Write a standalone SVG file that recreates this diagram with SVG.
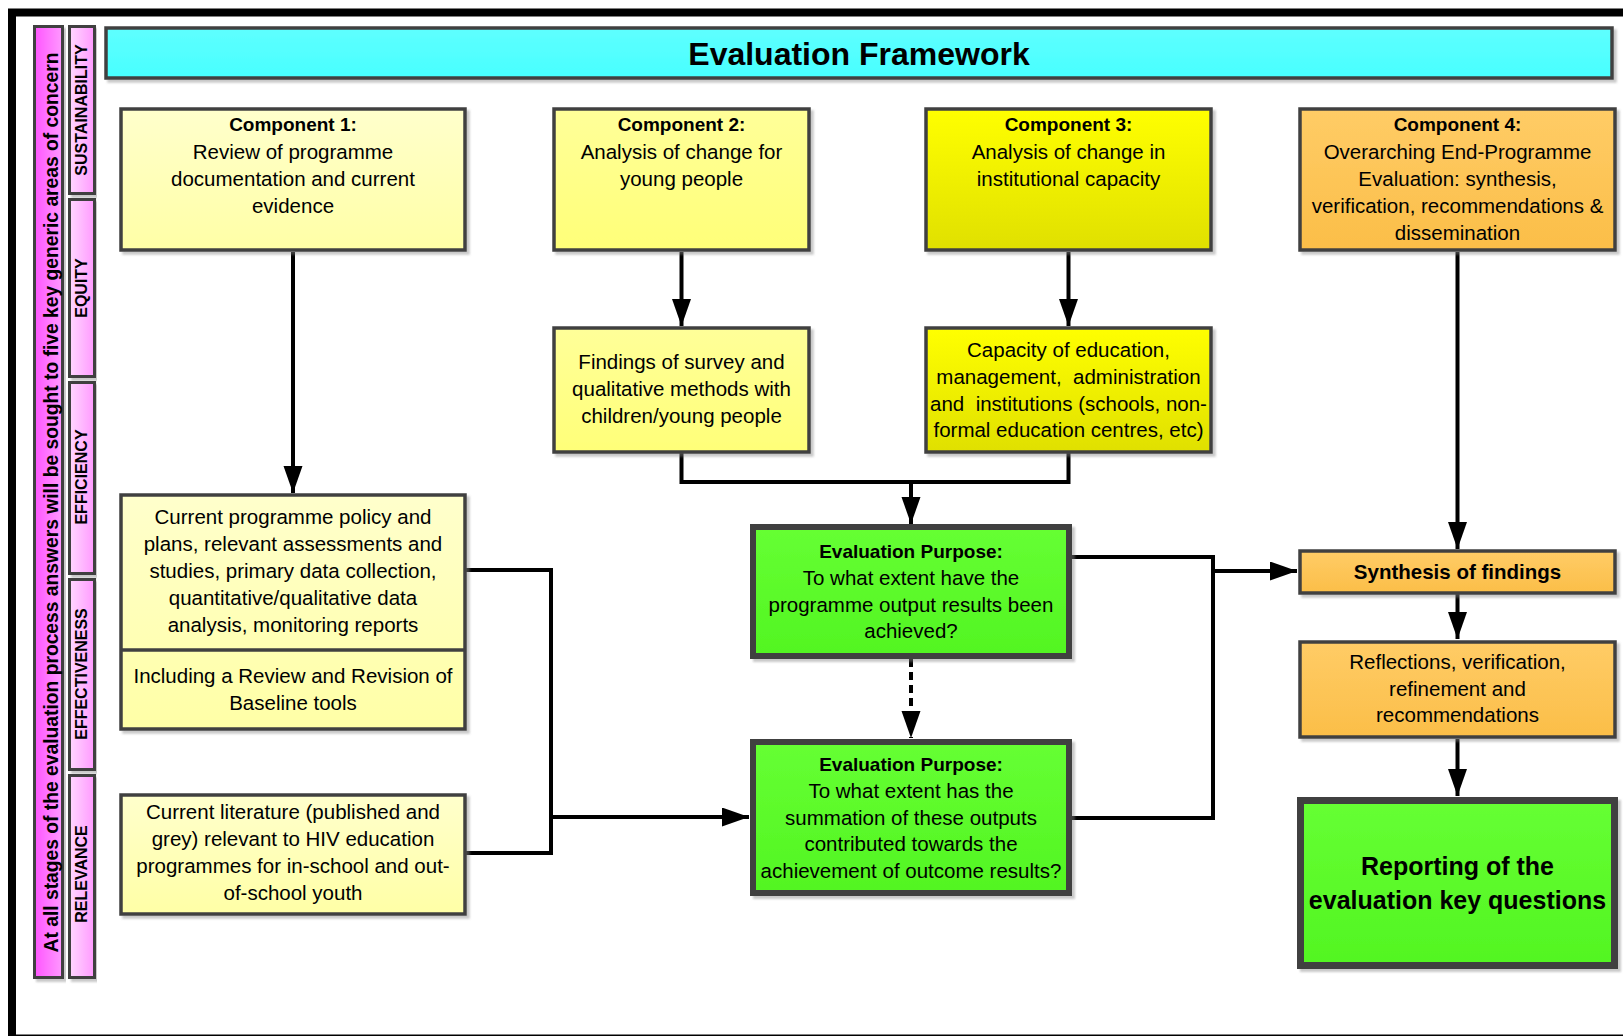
<svg xmlns="http://www.w3.org/2000/svg" width="1623" height="1036" viewBox="0 0 1623 1036">
<style>
  text { font-family: "Liberation Sans", Arial, sans-serif; fill: #000; }
  .t { font-size: 20.5px; text-anchor: middle; }
  .h { font-size: 19px; font-weight: bold; text-anchor: middle; }
  .pil { font-size: 16px; font-weight: bold; text-anchor: middle; }
  .box { stroke: #404040; stroke-width: 3.5; filter: url(#sh); }
  .thick { stroke: #404040; stroke-width: 6; filter: url(#sh); }
  .con { fill: none; stroke: #000; stroke-width: 4; }
  .arr { marker-end: url(#ah); }
</style>
<defs>
  <filter id="sh" x="-5%" y="-5%" width="115%" height="120%">
    <feDropShadow dx="3" dy="3" stdDeviation="1.2" flood-color="#888" flood-opacity="0.45"/>
  </filter>
  <linearGradient id="gPale" x1="0" y1="0" x2="0" y2="1"><stop offset="0" stop-color="#ffffcc"/><stop offset="1" stop-color="#ffffa6"/></linearGradient>
  <linearGradient id="gLt" x1="0" y1="0" x2="0" y2="1"><stop offset="0" stop-color="#ffff99"/><stop offset="1" stop-color="#ffff78"/></linearGradient>
  <linearGradient id="gY" x1="0" y1="0" x2="0" y2="1"><stop offset="0" stop-color="#ffff00"/><stop offset="1" stop-color="#e0e000"/></linearGradient>
  <linearGradient id="gO" x1="0" y1="0" x2="0" y2="1"><stop offset="0" stop-color="#ffcc66"/><stop offset="1" stop-color="#fbbe48"/></linearGradient>
  <linearGradient id="gG" x1="0" y1="0" x2="0" y2="1"><stop offset="0" stop-color="#66ff33"/><stop offset="1" stop-color="#52f522"/></linearGradient>
  <linearGradient id="gC" x1="0" y1="0" x2="0" y2="1"><stop offset="0" stop-color="#5effff"/><stop offset="1" stop-color="#48ffff"/></linearGradient>
  <linearGradient id="gM" x1="0" y1="0" x2="1" y2="0"><stop offset="0" stop-color="#ff55ff"/><stop offset="1" stop-color="#ff99ff"/></linearGradient>
  <linearGradient id="gP" x1="0" y1="0" x2="1" y2="0"><stop offset="0" stop-color="#ffd8ff"/><stop offset="1" stop-color="#ff99ff"/></linearGradient>
  <marker id="ah" markerUnits="userSpaceOnUse" markerWidth="28" markerHeight="20" refX="27" refY="9.5" orient="auto">
    <path d="M0,0 L27,9.5 L0,19 Z" fill="#000"/>
  </marker>
</defs>
<rect width="1623" height="1036" fill="#fff"/>
<rect x="12" y="12.5" width="1640" height="1026" fill="none" stroke="#000" stroke-width="8"/>

<g id="concern-bar">
  <rect x="34.5" y="26.5" width="28" height="951" fill="url(#gM)" stroke="#404040" stroke-width="3" filter="url(#sh)"/>
  <text transform="translate(58,502.5) rotate(-90)" font-size="20" font-weight="bold" text-anchor="middle" textLength="900" lengthAdjust="spacingAndGlyphs">At all stages of the evaluation process answers will be sought to five key generic areas of concern</text>
</g>
<g id="sustainability">
  <rect x="69.5" y="26.5" width="25" height="167" fill="url(#gP)" stroke="#404040" stroke-width="3" filter="url(#sh)"/>
  <text class="pil" transform="translate(87,110) rotate(-90)">SUSTAINABILITY</text>
</g>
<g id="equity">
  <rect x="69.5" y="199.5" width="25" height="177" fill="url(#gP)" stroke="#404040" stroke-width="3" filter="url(#sh)"/>
  <text class="pil" transform="translate(87,288) rotate(-90)">EQUITY</text>
</g>
<g id="efficiency">
  <rect x="69.5" y="382.5" width="25" height="191" fill="url(#gP)" stroke="#404040" stroke-width="3" filter="url(#sh)"/>
  <text class="pil" transform="translate(87,477) rotate(-90)">EFFICIENCY</text>
</g>
<g id="effectiveness">
  <rect x="69.5" y="579.5" width="25" height="190" fill="url(#gP)" stroke="#404040" stroke-width="3" filter="url(#sh)"/>
  <text class="pil" transform="translate(87,674) rotate(-90)">EFFECTIVENESS</text>
</g>
<g id="relevance">
  <rect x="69.5" y="775.5" width="25" height="202" fill="url(#gP)" stroke="#404040" stroke-width="3" filter="url(#sh)"/>
  <text class="pil" transform="translate(87,874) rotate(-90)">RELEVANCE</text>
</g>

<g id="title">
  <rect x="106" y="28" width="1506" height="50" fill="url(#gC)" class="box"/>
  <text x="859" y="64.5" font-size="32" font-weight="bold" text-anchor="middle">Evaluation Framework</text>
</g>

<g id="connectors">
  <path class="con arr" d="M293,252 V493"/>
  <path class="con arr" d="M681.5,252 V326"/>
  <path class="con arr" d="M1068.5,252 V326"/>
  <path class="con" d="M681.5,453 V482 H1068.5 V453"/>
  <path class="con arr" d="M911,482 V524"/>
  <path class="con arr" d="M911,659 V738" stroke-dasharray="8,5"/>
  <path class="con" d="M466,570 H551 V853 H466"/>
  <path class="con arr" d="M551,817 H749"/>
  <path class="con" d="M1071,557 H1213 V818 H1071"/>
  <path class="con arr" d="M1213,571 H1297"/>
  <path class="con arr" d="M1457.5,252 V549"/>
  <path class="con arr" d="M1457.5,594 V639"/>
  <path class="con arr" d="M1457.5,739 V796"/>
</g>

<g id="component1">
  <rect x="121" y="109" width="344" height="141" fill="url(#gPale)" class="box"/>
  <text class="h" x="293" y="131">Component 1:</text>
  <text class="t" x="293" y="159">Review of programme</text>
  <text class="t" x="293" y="186">documentation and current</text>
  <text class="t" x="293" y="213">evidence</text>
</g>
<g id="component2">
  <rect x="554" y="109" width="255" height="141" fill="url(#gLt)" class="box"/>
  <text class="h" x="681.5" y="131">Component 2:</text>
  <text class="t" x="681.5" y="159">Analysis of change for</text>
  <text class="t" x="681.5" y="186">young people</text>
</g>
<g id="component3">
  <rect x="926" y="109" width="285" height="141" fill="url(#gY)" class="box"/>
  <text class="h" x="1068.5" y="131">Component 3:</text>
  <text class="t" x="1068.5" y="159">Analysis of change in</text>
  <text class="t" x="1068.5" y="186">institutional capacity</text>
</g>
<g id="component4">
  <rect x="1300" y="109" width="315" height="141" fill="url(#gO)" class="box"/>
  <text class="h" x="1457.5" y="131">Component 4:</text>
  <text class="t" x="1457.5" y="159">Overarching End-Programme</text>
  <text class="t" x="1457.5" y="186">Evaluation: synthesis,</text>
  <text class="t" x="1457.5" y="213">verification, recommendations &amp;</text>
  <text class="t" x="1457.5" y="240">dissemination</text>
</g>
<g id="findings">
  <rect x="554" y="328" width="255" height="124" fill="url(#gLt)" class="box"/>
  <text class="t" x="681.5" y="369">Findings of survey and</text>
  <text class="t" x="681.5" y="396">qualitative methods with</text>
  <text class="t" x="681.5" y="423">children/young people</text>
</g>
<g id="capacity">
  <rect x="926" y="328" width="285" height="124" fill="url(#gY)" class="box"/>
  <text class="t" x="1068.5" y="357">Capacity of education,</text>
  <text class="t" x="1068.5" y="384" xml:space="preserve">management,  administration</text>
  <text class="t" x="1068.5" y="411" xml:space="preserve">and  institutions (schools, non-</text>
  <text class="t" x="1068.5" y="437">formal education centres, etc)</text>
</g>
<g id="current-programme">
  <rect x="121" y="495" width="344" height="234" fill="url(#gPale)" class="box"/>
  <line x1="121" y1="650" x2="465" y2="650" stroke="#404040" stroke-width="3.5"/>
  <text class="t" x="293" y="524">Current programme policy and</text>
  <text class="t" x="293" y="551">plans, relevant assessments and</text>
  <text class="t" x="293" y="578">studies, primary data collection,</text>
  <text class="t" x="293" y="605">quantitative/qualitative data</text>
  <text class="t" x="293" y="632">analysis, monitoring reports</text>
  <text class="t" x="293" y="683">Including a Review and Revision of</text>
  <text class="t" x="293" y="710">Baseline tools</text>
</g>
<g id="current-literature">
  <rect x="121" y="795" width="344" height="119" fill="url(#gPale)" class="box"/>
  <text class="t" x="293" y="819">Current literature (published and</text>
  <text class="t" x="293" y="846">grey) relevant to HIV education</text>
  <text class="t" x="293" y="873">programmes for in-school and out-</text>
  <text class="t" x="293" y="900">of-school youth</text>
</g>
<g id="evaluation-purpose-1">
  <rect x="753" y="527" width="316" height="129" fill="url(#gG)" class="thick"/>
  <text class="h" x="911" y="558">Evaluation Purpose:</text>
  <text class="t" x="911" y="585">To what extent have the</text>
  <text class="t" x="911" y="612">programme output results been</text>
  <text class="t" x="911" y="638">achieved?</text>
</g>
<g id="evaluation-purpose-2">
  <rect x="753" y="742" width="316" height="151" fill="url(#gG)" class="thick"/>
  <text class="h" x="911" y="771">Evaluation Purpose:</text>
  <text class="t" x="911" y="798">To what extent has the</text>
  <text class="t" x="911" y="825">summation of these outputs</text>
  <text class="t" x="911" y="851">contributed towards the</text>
  <text class="t" x="911" y="878">achievement of outcome results?</text>
</g>
<g id="synthesis">
  <rect x="1300" y="551" width="315" height="42" fill="url(#gO)" class="box"/>
  <text x="1457.5" y="579" font-size="20.5" font-weight="bold" text-anchor="middle">Synthesis of findings</text>
</g>
<g id="reflections">
  <rect x="1300" y="642" width="315" height="95" fill="url(#gO)" class="box"/>
  <text class="t" x="1457.5" y="669">Reflections, verification,</text>
  <text class="t" x="1457.5" y="696">refinement and</text>
  <text class="t" x="1457.5" y="722">recommendations</text>
</g>
<g id="reporting">
  <rect x="1300.5" y="800.5" width="314" height="165" fill="url(#gG)" stroke="#404040" stroke-width="7" filter="url(#sh)"/>
  <text x="1457.5" y="875" font-size="25" font-weight="bold" text-anchor="middle">Reporting of the</text>
  <text x="1457.5" y="909" font-size="25" font-weight="bold" text-anchor="middle">evaluation key questions</text>
</g>
</svg>
